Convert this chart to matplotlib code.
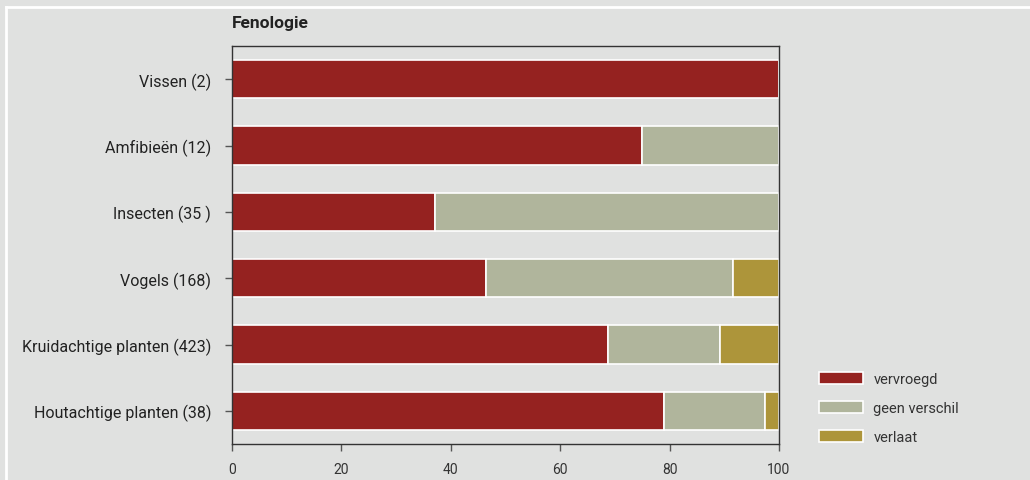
import matplotlib.pyplot as plt
from matplotlib.lines import Line2D

plt.rcParams['font.family'] = ['Roboto', 'DejaVu Sans']

# Data
categories = ["Vissen (2)", "Amfibieën (12)", "Insecten (35 )", "Vogels (168)",
              "Kruidachtige planten (423)", "Houtachtige planten (38)"]
vervroegd = [100, 75.0, 37.1, 46.4, 68.7, 78.9]
geen_verschil = [0, 25.0, 62.9, 45.2, 20.5, 18.5]
verlaat = [0, 0, 0, 8.4, 10.8, 2.6]
series_names = ["vervroegd", "geen verschil", "verlaat"]
colors = ["#952220", "#b0b59c", "#ad953a"]
xticks = [0, 20, 40, 60, 80, 100]

bg = "#e0e1e0"
fig = plt.figure(figsize=(10.30, 4.81), dpi=100, facecolor=bg)
ax = fig.add_axes([232 / 1030, 1 - 445 / 481, (779 - 232) / 1030, (445 - 47) / 481])
ax.set_facecolor(bg)

# white frame lines at top and left of the panel
fig.add_artist(Line2D([6 / 1030, 1], [1 - 8 / 481, 1 - 8 / 481], color="white", lw=2, transform=fig.transFigure))
fig.add_artist(Line2D([6 / 1030, 6 / 1030], [0, 1 - 8 / 481], color="white", lw=2, transform=fig.transFigure))

y = list(range(len(categories)))
left = [0] * len(categories)
for vals, name, c in zip([vervroegd, geen_verschil, verlaat], series_names, colors):
    ax.barh(y, vals, left=left, height=0.58, color=c, edgecolor="white", linewidth=1.2, label=name)
    left = [a + b for a, b in zip(left, vals)]

ax.set_xlim(0, 100)
ax.set_ylim(5.5, -0.5)
ax.set_yticks(y)
ax.set_yticklabels(categories, fontsize=11.5, color="#222222")
ax.set_xticks(xticks)
ax.set_xticklabels([str(t) for t in xticks], fontsize=10, color="#333333")
ax.tick_params(axis="y", length=5, width=1, color="#555555", pad=10)
ax.tick_params(axis="x", length=5, width=1, color="#555555", pad=8)
for s in ax.spines.values():
    s.set_color("#333333")
    s.set_linewidth(1)

ax.text(0, 1.04, "Fenologie", transform=ax.transAxes, fontsize=12.5, fontweight="bold",
        color="#222222", ha="left", va="bottom")

leg = ax.legend(loc="upper left", bbox_to_anchor=(1.05, 0.213), frameon=False, fontsize=10.5,
                handlelength=3.0, handleheight=0.9, labelspacing=1.02, handletextpad=0.7)
for t in leg.get_texts():
    t.set_color("#333333")

fig.savefig("out.png", dpi=100, facecolor=bg)
